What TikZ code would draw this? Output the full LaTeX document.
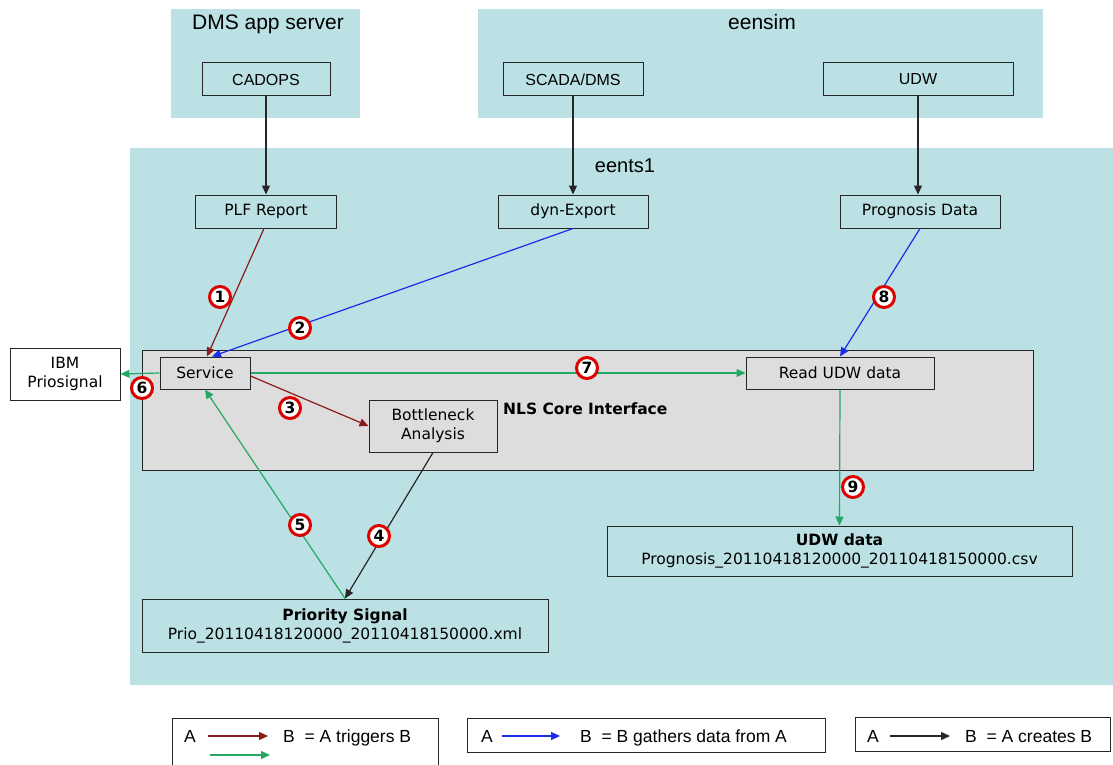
\documentclass[tikz,border=0pt]{standalone}
\usepackage{fontspec}
\setmainfont{DejaVu Sans}
\newfontfamily\arialfont{Liberation Sans}
\usetikzlibrary{arrows.meta,calc}

\definecolor{zone}{RGB}{188,225,228}
\definecolor{core}{RGB}{221,221,221}
\definecolor{trig}{RGB}{139,26,26}
\definecolor{flowc}{RGB}{34,170,100}
\definecolor{gatherc}{RGB}{25,45,235}
\definecolor{badge}{RGB}{220,0,0}

\begin{document}
\begin{tikzpicture}[x=1pt,y=-1pt,
  comp/.style={draw=black!85,line width=1pt,inner sep=1pt,align=center,
    font=\fontsize{15.5}{19}\selectfont},
  srv/.style={comp,font=\arialfont\fontsize{16}{19}\selectfont},
  zonelabel/.style={anchor=base,inner sep=0pt,font=\arialfont\fontsize{21}{24}\selectfont},
  num/.style={circle,draw=badge,fill=white,line width=3pt,minimum size=21pt,
    inner sep=0pt,font=\bfseries\fontsize{15.5}{15.5}\selectfont},
  link/.style={line width=1.2pt,-{Triangle[length=9pt,width=8pt]}},
  trigger/.style={link,draw=trig},
  flow/.style={link,draw=flowc},
  gather/.style={link,draw=gatherc},
  create/.style={link,draw=black!85},
  legbox/.style={draw=black!85,line width=1pt,anchor=north west,inner sep=0pt},
  legtext/.style={anchor=base west,inner sep=0pt,font=\arialfont\fontsize{17.5}{20}\selectfont},
]
\useasboundingbox (0,0) rectangle (1113,765);
\fill[white] (0,0) rectangle (1113,765);

% host zones
\fill[zone] (171,9) rectangle (360,118);
\fill[zone] (478,9) rectangle (1043,118);
\fill[zone] (130,148) rectangle (1113,685);
\node[zonelabel] (dmslabel) at (268,30) {DMS app server};
\node[zonelabel] (eensimlabel) at (762,30) {eensim};
\node[zonelabel,font=\arialfont\fontsize{20}{24}\selectfont] (eentslabel) at (625,172) {eents1};

% NLS core area
\node[draw=black!85,line width=1pt,fill=core,minimum width=891,minimum height=120] (nls) at (587.5,410) {};
\node[font=\bfseries\fontsize{15.5}{19}\selectfont,anchor=west,inner sep=0pt] (nlslabel) at (503,409) {NLS Core Interface};

% source systems
\node[srv,minimum width=128,minimum height=33] (cadops) at (266,79.5) {CADOPS};
\node[srv,minimum width=140,minimum height=33] (scada) at (573,79.5) {SCADA/DMS};
\node[srv,minimum width=190,minimum height=33] (udw) at (918,79.5) {UDW};

% exports on eents1
\node[comp,minimum width=141,minimum height=33] (plf) at (266,211.5) {PLF Report};
\node[comp,minimum width=150,minimum height=33] (dyn) at (573,211.5) {dyn-Export};
\node[comp,minimum width=160,minimum height=33] (prog) at (920,211.5) {Prognosis Data};

% core components
\node[comp,minimum width=90,minimum height=32] (service) at (205,373) {Service};
\node[comp,minimum width=188,minimum height=32] (readudw) at (840,373) {Read UDW data};
\node[comp,minimum width=128,minimum height=52] (bottle) at (433,426) {Bottleneck\\Analysis};
\node[comp,fill=white,minimum width=110,minimum height=52] (ibm) at (65,374) {IBM\\Priosignal};

% result files
\node[comp,minimum width=406,minimum height=53] (prio) at (345,625.5)
  {\textbf{Priority Signal}\\Prio\_20110418120000\_20110418150000.xml};
\node[comp,minimum width=465,minimum height=50] (udwdata) at (839.5,551)
  {\textbf{UDW data}\\Prognosis\_20110418120000\_20110418150000.csv};

% connectors
\draw[create] (cadops.south) -- (plf.north);
\draw[create] (scada.south) -- (dyn.north);
\draw[create] (udw.south) -- (udw.south |- prog.north);
\draw[trigger] ($(plf.south)+(-2,0)$) -- ($(service.north)+(2,0)$);
\draw[gather] (dyn.south) -- ($(service.north)+(7,0)$);
\draw[gather] (prog.south) -- (readudw.north);
\draw[flow] (service.east) -- (readudw.west);
\draw[flow] (service.west) -- (ibm.east);
\draw[trigger] ($(service.east)+(0,3)$) -- (bottle.west);
\draw[create] (bottle.south) -- (prio.north);
\draw[flow] (prio.north) -- (service.south);
\draw[flow] (readudw.south) -- (udwdata.north);

% step numbers
\node[num] (n1) at (220,297) {1};
\node[num] (n2) at (300,328) {2};
\node[num] (n3) at (290,408) {3};
\node[num] (n4) at (379,536) {4};
\node[num] (n5) at (300,525) {5};
\node[num] (n6) at (142,388) {6};
\node[num] (n7) at (587,368) {7};
\node[num] (n8) at (884,297) {8};
\node[num] (n9) at (853,487) {9};

% legend
\node[legbox,minimum width=266,minimum height=62] (leg1) at (172,718) {};
\node[legtext] (l1a) at (184,742) {A};
\coordinate (l1s) at (208,736);
\coordinate (l1e) at (268,736);
\node[legtext] (l1b) at (283,742) {B~~= A triggers B};
\coordinate (l1gs) at (210,755);
\coordinate (l1ge) at (270,755);
\draw[trigger] (l1s) -- (l1e);
\draw[flow] (l1gs) -- (l1ge);

\node[legbox,minimum width=358,minimum height=34] (leg2) at (467,718) {};
\node[legtext] (l2a) at (481,742) {A};
\coordinate (l2s) at (502,736);
\coordinate (l2e) at (560,736);
\node[legtext] (l2b) at (580,742) {B~~= B gathers data from A};
\draw[gather] (l2s) -- (l2e);

\node[legbox,minimum width=255,minimum height=34] (leg3) at (855,717) {};
\node[legtext] (l3a) at (867,742) {A};
\coordinate (l3s) at (890,736);
\coordinate (l3e) at (950,736);
\node[legtext] (l3b) at (965,742) {B~~= A creates B};
\draw[create] (l3s) -- (l3e);
\end{tikzpicture}
\end{document}
